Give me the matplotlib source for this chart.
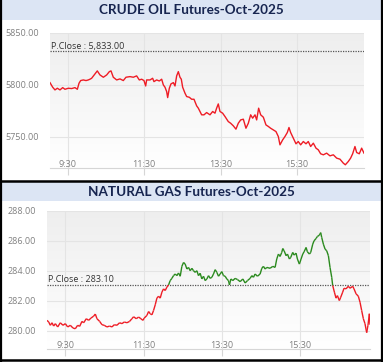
import numpy as np
import matplotlib
matplotlib.use("Agg")
import matplotlib.pyplot as plt
from matplotlib.collections import LineCollection
from matplotlib.colors import LinearSegmentedColormap

# ---------------- data ----------------
crude_title = "CRUDE OIL Futures-Oct-2025"
crude_pclose = 5833.00
crude_t = [2.3, 6.5, 10.1, 13.8, 18, 22.2, 25.8, 31, 36.3, 41.5, 45.2, 47.8, 50.4, 54.6, 58.8, 62.4, 65,
           67.6, 72.9, 76.5, 80.7, 86, 91.2, 95.4, 98, 101.6, 106.9, 112.1, 117.3, 121.5, 127.8, 133, 138.2,
           142.4, 146.1, 149.7, 152.4, 153.9, 159.2, 163.3, 165.4, 169.6, 173.8, 177.5, 180.1, 182.7, 185.3,
           186.9, 189.5, 192.1, 195.8, 198.4, 201, 203.6, 206.2, 208.3, 210.4, 214.1, 216.7, 220.9, 224.5,
           228.2, 232.4, 235, 237.6, 240.2, 243.9, 248, 253.3, 257.5, 261.1, 263.7, 266.3, 269, 273.1, 276.8,
           282, 285.7, 289.9, 294, 297.7, 301.4, 305.6, 309.7, 313.4, 317.1, 320.2, 323.9, 326.5, 329.6, 332.8,
           337, 341.1, 344.8, 348.4, 352.6, 356.8, 360.5, 363.1, 367.3, 370.9, 374.6, 377.2, 379.8, 384, 388.2,
           391.8, 395.5, 399.7, 403.9, 407.5, 411.2, 415.4, 419.6, 423.2, 426.9, 431.1, 436.3, 441.5, 446.8,
           452, 457.2, 462.4, 465.6, 470.3, 473.9, 477.1, 480.7, 483.4, 487.5, 491.2, 494.9]
crude_p = [5802.2, 5797.8, 5795.2, 5796.8, 5795.2, 5797.4, 5795.8, 5796.8, 5796.5, 5797.4, 5795.8, 5801.6,
           5804.2, 5804.8, 5804.2, 5804.8, 5805.5, 5806.4, 5810.6, 5813.5, 5809.6, 5807.4, 5809.6, 5812.8,
           5813.5, 5807.4, 5804.8, 5805.8, 5804.2, 5807.4, 5808.0, 5807.4, 5808.7, 5804.8, 5805.5, 5804.2,
           5799.0, 5804.8, 5804.8, 5806.4, 5803.2, 5804.8, 5803.8, 5805.5, 5800.0, 5797.8, 5793.6, 5787.8,
           5796.8, 5801.0, 5802.2, 5799.0, 5808.7, 5812.8, 5807.4, 5805.5, 5797.8, 5792.0, 5788.8, 5788.1,
           5786.2, 5786.2, 5779.8, 5777.6, 5774.4, 5771.2, 5771.2, 5773.4, 5771.2, 5774.4, 5772.8, 5777.6,
           5781.7, 5774.4, 5772.8, 5769.6, 5764.7, 5763.1, 5760.6, 5757.4, 5763.1, 5766.3, 5767.0, 5758.3,
           5763.1, 5771.2, 5768.0, 5771.2, 5766.3, 5777.6, 5771.2, 5768.9, 5761.5, 5760.0, 5758.3, 5756.7,
           5755.1, 5750.3, 5742.3, 5747.1, 5750.3, 5754.2, 5759.0, 5754.2, 5748.7, 5743.3, 5745.5, 5742.3,
           5745.5, 5743.3, 5745.5, 5740.7, 5743.9, 5739.1, 5737.5, 5733.7, 5732.7, 5734.3, 5731.7, 5732.7,
           5729.5, 5728.5, 5724.7, 5723.1, 5726.3, 5729.5, 5733.7, 5740.7, 5734.9, 5733.7, 5739.1, 5734.3]
crude_yticks = [5750, 5800, 5850]
crude_ylim = (5720, 5850)

gas_title = "NATURAL GAS Futures-Oct-2025"
gas_pclose = 283.10
gas_t = [1.9, 4.5, 7.0, 9.6, 12.1, 14.7, 18.3, 22.3, 26.4, 30, 33.6, 37.7, 41.7, 45.3, 48.9, 52.0, 55.5, 58.1,
         62.2, 65.7, 69.3, 73.4, 76.0, 78.5, 82.6, 86.2, 89.7, 93.8, 97.9, 101.5, 105.1, 109.1, 113.2, 116.8,
         120.4, 124.5, 128.5, 132.1, 134.7, 138.8, 142.3, 145.9, 149.0, 151.0, 155.1, 157.7, 160.2, 162.8,
         165.3, 167.9, 170.4, 173.0, 175.5, 178.1, 180.6, 183.2, 185.7, 188.3, 190.8, 193.4, 195.9, 198.5,
         201.1, 203.6, 206.2, 208.7, 211.3, 213.8, 216.4, 218.9, 221.5, 224.0, 226.6, 229.1, 231.7, 234.2,
         236.8, 239.3, 241.9, 244.5, 247.0, 249.6, 252.1, 254.7, 257.2, 259.8, 262.3, 264.9, 267.4, 270.0,
         272.5, 275.1, 277.6, 280.2, 281.7, 283.8, 286.8, 290.4, 294.0, 298.1, 302.2, 305.7, 309.3, 313.4,
         316.0, 318.5, 321.0, 324.6, 328.7, 331.3, 333.8, 336.4, 338.9, 344.0, 348.1, 351.7, 354.2, 356.8,
         359.3, 361.9, 363.4, 365.5, 368.5, 370.6, 373.6, 375.7, 378.7, 380.8, 383.8, 385.9, 388.9, 391.5,
         394.1, 396.1, 399.2, 401.2, 404.3, 406.3, 409.4, 411.4, 414.5, 416.5, 419.6, 421.6, 423.2, 425.7,
         428.3, 430.8, 433.4, 435.9, 438.5, 440.0, 442.6, 445.1, 447.2, 450.2, 452.3, 455.3, 457.4, 460.4,
         464.0, 466.6, 470.7, 472.7, 475.8, 479.3, 481.9, 484.4, 487.0, 489.5, 492.1, 494.1, 496.2, 497.2]
gas_p = [280.71, 280.60, 280.38, 280.55, 280.33, 280.49, 280.27, 280.55, 280.38, 280.49, 280.27, 280.38,
         280.20, 280.15, 280.38, 280.31, 280.64, 280.55, 280.82, 280.71, 280.86, 280.99, 281.13, 280.82,
         280.64, 280.42, 280.38, 280.27, 280.33, 280.27, 280.42, 280.38, 280.55, 280.49, 280.60, 280.55,
         280.64, 280.82, 280.95, 280.82, 280.93, 280.82, 280.71, 280.86, 281.04, 281.30, 281.15, 281.08,
         281.37, 281.75, 282.19, 282.32, 282.19, 282.59, 282.81, 282.70, 282.92, 283.07, 283.36, 283.51,
         283.69, 283.80, 283.69, 283.87, 283.65, 284.31, 284.57, 284.46, 284.13, 284.24, 284.02, 284.18,
         284.02, 283.91, 284.02, 283.69, 283.85, 283.47, 283.65, 283.36, 283.47, 283.69, 283.51, 283.58,
         283.80, 284.09, 283.91, 283.65, 283.80, 283.96, 283.69, 283.65, 283.47, 283.36, 283.07, 283.47,
         283.36, 283.51, 283.43, 283.29, 283.47, 283.20, 283.36, 283.51, 283.69, 283.58, 283.80, 283.65,
         283.80, 284.18, 284.31, 284.13, 284.24, 284.18, 284.31, 284.24, 284.80, 285.13, 284.97, 285.24,
         285.50, 285.35, 285.02, 285.13, 284.80, 284.91, 285.24, 285.06, 285.19, 284.80, 284.46, 284.80,
         285.13, 285.28, 285.57, 285.28, 285.13, 285.24, 285.79, 286.01, 286.17, 286.30, 286.39, 286.56,
         286.23, 285.79, 285.46, 285.35, 285.02, 284.24, 283.58, 283.03, 282.59, 282.19, 282.36, 282.03,
         282.25, 282.59, 282.85, 282.81, 282.98, 282.85, 282.98, 282.81, 282.48, 282.32, 281.92, 281.37,
         280.82, 280.49, 279.89, 280.38, 281.15, 280.42]
gas_yticks = [280, 282, 284, 286, 288]
gas_ylim = (278.8, 288)

xtick_pos = [30, 150, 270, 390]
xtick_lab = ["9:30", "11:30", "13:30", "15:30"]

# ---------------- style ----------------
W, H = 383, 362
fig = plt.figure(figsize=(W / 100, H / 100), dpi=100)
fig.patch.set_facecolor("white")

RED = "#ee1c25"
GREEN = "#2a8a1e"
TITLE_BG = "#dce5f4"
TITLE_FG = "#172550"
TICK_FG = "#808080"
GRID = "#e4e4e4"
FONT = "Open Sans"
TFONT = "Lato"

grad_cmap = LinearSegmentedColormap.from_list("g", ["#eeeeee", "#ffffff"])


def px_axes(l, t, r, b):
    return fig.add_axes([l / W, (H - b) / H, (r - l) / W, (b - t) / H])


def title_bar(top, bottom, text, ycenter):
    ax = fig.add_axes([0, (H - bottom) / H, 1, (bottom - top) / H])
    ax.set_xlim(0, W); ax.set_ylim(0, 1)
    ax.axis("off")
    ax.add_patch(plt.Rectangle((0, 0), W, 1, color=TITLE_BG, lw=0))
    fig.text(191 / W, (H - ycenter) / H, text, ha="center", va="center",
             fontsize=9.7, fontweight="bold", color=TITLE_FG, family=TFONT)


def panel(ax, t, p, pclose, ylim, yticks, xlim, two_color, plabel):
    ax.set_xlim(*xlim)
    ax.set_ylim(*ylim)
    ax.imshow(np.linspace(0, 1, 256).reshape(-1, 1), cmap=grad_cmap, aspect="auto",
              extent=[0, 1, 0, 1], transform=ax.transAxes, zorder=0)
    for s in ["top", "right", "left"]:
        ax.spines[s].set_visible(False)
    ax.spines["bottom"].set_color("#d6d6d6")
    ax.set_yticks(yticks)
    ax.set_yticklabels([f"{v:.2f}" for v in yticks], fontsize=6.5, color=TICK_FG, family=FONT)
    ax.tick_params(axis="y", length=0, pad=8)
    ax.set_xticks(xtick_pos)
    ax.set_xticklabels(xtick_lab, fontsize=6.5, color=TICK_FG, family=FONT)
    ax.tick_params(axis="x", direction="out", length=5, color="#d6d6d6", pad=-11)
    ax.grid(True, color=GRID, lw=0.8, zorder=1)
    ax.set_axisbelow(True)
    ax.axhline(pclose, color="#555555", ls=(0, (1, 1)), lw=0.9, zorder=3)
    ax.text(xlim[0] + 2, pclose, plabel, fontsize=6.5, color="#333333", family=FONT,
            ha="left", va="bottom", zorder=4)
    t = np.asarray(t); p = np.asarray(p)
    if two_color:
        segs = np.stack([np.column_stack([t[:-1], p[:-1]]), np.column_stack([t[1:], p[1:]])], axis=1)
        mid = (p[:-1] + p[1:]) / 2
        cols = [GREEN if m > pclose else RED for m in mid]
        ax.add_collection(LineCollection(segs, colors=cols, lw=1.0, zorder=5))
    else:
        ax.plot(t, p, color=RED, lw=1.0, zorder=5)


title_bar(0, 20, crude_title, 10)
ax1 = px_axes(50, 33, 364, 168)
panel(ax1, crude_t, crude_p, crude_pclose, crude_ylim, crude_yticks, (2.3, 494.9), False,
      f"P.Close : {crude_pclose:,.2f}")

title_bar(181, 201, gas_title, 191.5)
ax2 = px_axes(47, 211, 370, 349)
panel(ax2, gas_t, gas_p, gas_pclose, gas_ylim, gas_yticks, (1.9, 497.2), True,
      f"P.Close : {gas_pclose:.2f}")

# frame lines
frame = fig.add_axes([0, 0, 1, 1], zorder=10)
frame.set_xlim(0, W); frame.set_ylim(H, 0)
frame.axis("off")
frame.plot([0.8, 0.8], [0, H], color="black", lw=1.6)
frame.plot([381.5, 381.5], [0, H], color="black", lw=1.6)
frame.plot([0, W], [180.5, 180.5], color="black", lw=1.8)
frame.plot([0, W], [360, 360], color="black", lw=1.8)

fig.savefig("out.png", dpi=100)
